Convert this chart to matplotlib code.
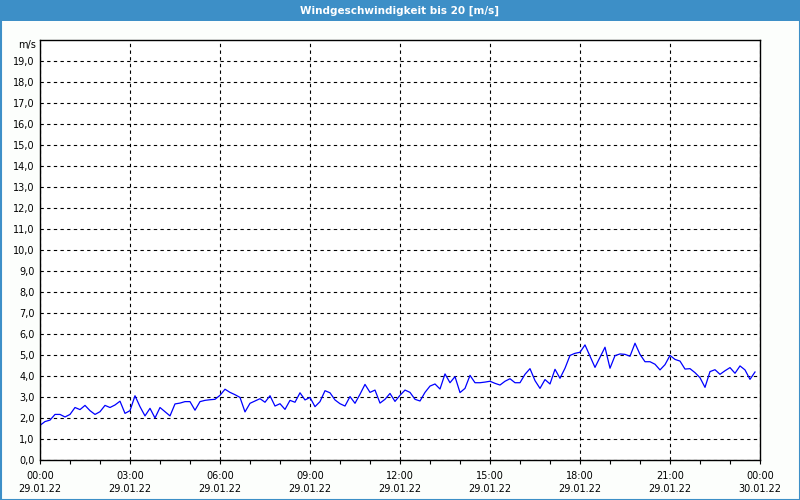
import numpy as np
import matplotlib
matplotlib.use('Agg')
import matplotlib.pyplot as plt
from matplotlib.patches import Rectangle

# Windgeschwindigkeit, 10-Minuten-Werte 29.01.22 00:00 .. 23:50
wind = [
    1.65, 1.83, 1.90, 2.17, 2.17, 2.05, 2.17, 2.50, 2.40, 2.60,
    2.35, 2.17, 2.30, 2.60, 2.50, 2.62, 2.80, 2.22, 2.35, 3.06,
    2.54, 2.10, 2.46, 2.00, 2.50, 2.30, 2.10, 2.67, 2.71, 2.78,
    2.78, 2.37, 2.78, 2.84, 2.87, 2.89, 3.08,
    3.37, 3.22, 3.11, 2.98, 2.29, 2.70, 2.81, 2.92, 2.75, 3.06,
    2.57, 2.68, 2.41, 2.84, 2.75, 3.20, 2.86, 2.98, 2.54, 2.78,
    3.30, 3.20, 2.86, 2.68, 2.57, 3.02, 2.70, 3.13, 3.60, 3.22,
    3.33, 2.71, 2.89, 3.17, 2.79, 3.08,
    3.33, 3.22, 2.89, 2.81, 3.22, 3.52, 3.62, 3.38, 4.10, 3.68,
    3.97, 3.21, 3.41, 4.03, 3.68, 3.68, 3.71, 3.75, 3.65, 3.57,
    3.75, 3.87, 3.68, 3.68, 4.08, 4.35, 3.78, 3.41, 3.83, 3.62,
    4.32, 3.89, 4.37, 4.98, 5.08, 5.13,
    5.48, 4.95, 4.41, 4.89, 5.37, 4.37, 4.97, 5.05, 5.03, 4.94,
    5.56, 5.03, 4.68, 4.68, 4.56, 4.29, 4.54, 4.98, 4.79, 4.71,
    4.33, 4.35, 4.16, 3.92, 3.46, 4.21, 4.30, 4.08, 4.25, 4.40,
    4.13, 4.48, 4.29, 3.84, 4.19,
]
step_minutes = 10
x_ticks = [0, 3, 6, 9, 12, 15, 18, 21, 24]
x_labels = ['00:00\n29.01.22', '03:00\n29.01.22', '06:00\n29.01.22',
            '09:00\n29.01.22', '12:00\n29.01.22', '15:00\n29.01.22',
            '18:00\n29.01.22', '21:00\n29.01.22', '00:00\n30.01.22']
y_ticks = np.arange(0, 20, 1)
title = 'Windgeschwindigkeit bis 20 [m/s]'
unit = 'm/s'

hours = np.arange(len(wind)) * step_minutes / 60.0

bar_blue = '#3d8fc7'
fig = plt.figure(figsize=(8, 5), dpi=100, facecolor='#fcfefc')

# Titelleiste und Rahmen
fig.patches.append(Rectangle((0, 1 - 21 / 500), 1, 21 / 500, transform=fig.transFigure,
                             facecolor=bar_blue, edgecolor='none', zorder=0))
fig.patches.append(Rectangle((0.5 / 800, 0.5 / 500), 1 - 1 / 800, 1 - 1 / 500,
                             transform=fig.transFigure, facecolor='none',
                             edgecolor=bar_blue, linewidth=1.5, zorder=0))
fig.text(0.5, 1 - 10.5 / 500, title, color='white', fontsize=7.5,
         fontweight='bold', ha='center', va='center')

ax = fig.add_axes([40 / 800, 40 / 500, 720 / 800, 420 / 500])
ax.set_facecolor('white')
ax.plot(hours, wind, color='#0000ff', linewidth=0.9)

ax.set_xlim(0, 24)
ax.set_ylim(0, 20)
ax.set_xticks(x_ticks)
ax.set_xticklabels(x_labels, fontsize=7, linespacing=1.4)
ax.set_xticks(np.arange(0, 25, 1), minor=True)
ax.set_yticks(y_ticks)
ax.set_yticklabels([f'{v:.1f}'.replace('.', ',') for v in y_ticks], fontsize=7)

ax.tick_params(axis='x', which='both', direction='out', length=3, width=0.8, pad=5)
ax.tick_params(axis='y', length=0, pad=4)
ax.grid(True, which='major', color='black', linestyle=(0, (3, 3)), linewidth=0.8)
for sp in ax.spines.values():
    sp.set_color('black')
    sp.set_linewidth(1)

ax.text(-0.006, 20 - 0.25, unit, transform=ax.get_yaxis_transform(), fontsize=7,
        ha='right', va='center')

fig.savefig('out.png', dpi=100, facecolor=fig.get_facecolor())
